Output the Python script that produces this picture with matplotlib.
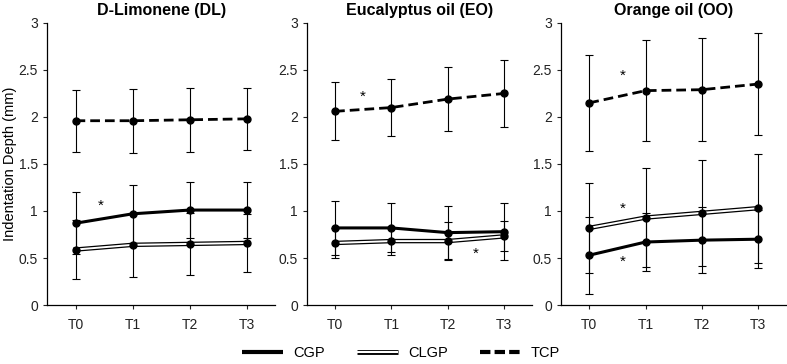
import matplotlib
matplotlib.use('Agg')
import matplotlib.pyplot as plt
from matplotlib.lines import Line2D

plt.rcParams['font.family'] = ['Liberation Sans', 'DejaVu Sans']

times = ['T0', 'T1', 'T2', 'T3']
titles = ['D-Limonene (DL)', 'Eucalyptus oil (EO)', 'Orange oil (OO)']

# mean and SD per panel (DL, EO, OO)
cgp_mean = [[0.87, 0.97, 1.01, 1.01], [0.82, 0.82, 0.77, 0.78], [0.53, 0.67, 0.69, 0.70]]
cgp_sd = [[0.33, 0.31, 0.30, 0.30], [0.29, 0.26, 0.28, 0.30], [0.41, 0.31, 0.35, 0.31]]
clgp_mean = [[0.59, 0.64, 0.65, 0.66], [0.66, 0.68, 0.68, 0.73], [0.82, 0.93, 0.98, 1.03]]
clgp_sd = [[0.31, 0.34, 0.33, 0.31], [0.16, 0.15, 0.20, 0.16], [0.48, 0.53, 0.56, 0.58]]
tcp_mean = [[1.96, 1.96, 1.97, 1.98], [2.06, 2.10, 2.19, 2.25], [2.15, 2.28, 2.29, 2.35]]
tcp_sd = [[0.33, 0.34, 0.34, 0.33], [0.31, 0.30, 0.34, 0.36], [0.51, 0.54, 0.55, 0.54]]

# significance stars (x, y)
stars = [[(0.45, 1.06)], [(0.5, 2.21), (2.5, 0.54)], [(0.6, 2.44), (0.6, 1.02), (0.6, 0.46)]]

fig = plt.figure(figsize=(7.87, 3.64), dpi=100)
lefts = [0.0597, 0.390, 0.713]
widths = [0.290, 0.286, 0.286]
x = list(range(len(times)))

for i in range(3):
    ax = fig.add_axes([lefts[i], 0.162, widths[i], 0.775])
    eb = dict(fmt='none', ecolor='black', elinewidth=0.8, capsize=3, capthick=0.8, zorder=2)
    ax.errorbar(x, tcp_mean[i], yerr=tcp_sd[i], **eb)
    ax.errorbar(x, cgp_mean[i], yerr=cgp_sd[i], **eb)
    ax.errorbar(x, clgp_mean[i], yerr=clgp_sd[i], **eb)
    ax.plot(x, tcp_mean[i], color='black', lw=2, ls=(0, (3.5, 1.8)), marker='o', ms=5, zorder=3)
    ax.plot(x, cgp_mean[i], color='black', lw=2.2, marker='o', ms=5, zorder=3)
    ax.plot(x, clgp_mean[i], color='black', lw=3.2, zorder=3)
    ax.plot(x, clgp_mean[i], color='white', lw=1.4, zorder=3)
    ax.plot(x, clgp_mean[i], ls='none', color='black', marker='o', ms=5, zorder=4)
    for sx, sy in stars[i]:
        ax.text(sx, sy, '*', ha='center', va='center', fontsize=11)
    ax.set_xlim(-0.5, 3.5)
    ax.set_ylim(0, 3)
    ax.set_xticks(x)
    ax.set_xticklabels(times)
    ax.set_yticks([0, 0.5, 1, 1.5, 2, 2.5, 3])
    ax.set_yticklabels(['0', '0.5', '1', '1.5', '2', '2.5', '3'])
    ax.tick_params(labelsize=10, length=3, width=0.8, colors='#222222')
    ax.tick_params(axis='x', pad=6)
    for s in ['top', 'right']:
        ax.spines[s].set_visible(False)
    for s in ['left', 'bottom']:
        ax.spines[s].set_linewidth(0.9)
    ax.set_title(titles[i], fontsize=11.5, fontweight='bold', pad=6)
    if i == 0:
        ax.set_ylabel('Indentation Depth (mm)', fontsize=10.5)
        ax.yaxis.set_label_coords(-0.13, 0.50)

h_cgp = Line2D([], [], color='black', lw=3, solid_capstyle='butt')
h_clgp = (Line2D([], [], color='black', lw=3.5, solid_capstyle='butt'),
          Line2D([], [], color='white', lw=1.5, solid_capstyle='butt'))
h_tcp = Line2D([], [], color='black', lw=3, ls=(0, (2.5, 1)))
fig.legend([h_cgp, h_clgp, h_tcp], ['CGP', 'CLGP', 'TCP'], loc='lower center',
           ncol=3, frameon=False, fontsize=10.5, handlelength=2.8,
           handletextpad=0.7, columnspacing=2.2, bbox_to_anchor=(0.51, -0.025))

fig.savefig('out.png', dpi=100)
